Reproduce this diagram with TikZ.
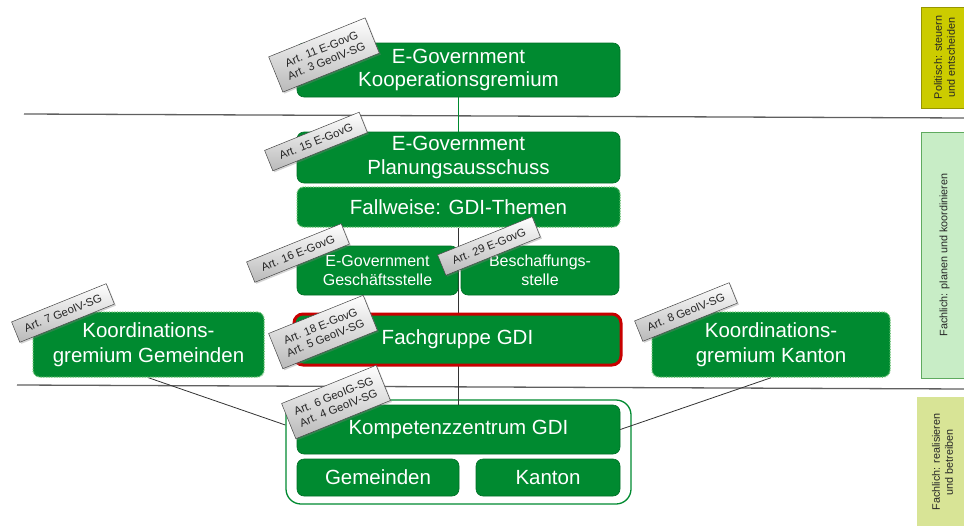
\documentclass[tikz,border=0pt]{standalone}
\usepackage{fontspec}
\setmainfont{Liberation Sans}
\usetikzlibrary{shadows}
\definecolor{gdigreen}{RGB}{0,138,48}
\definecolor{gdiedge}{RGB}{0,112,38}
\definecolor{gdidot}{RGB}{105,195,115}
\definecolor{gdired}{RGB}{200,0,0}
\definecolor{divgray}{RGB}{95,95,95}
\definecolor{taggray}{RGB}{70,70,70}
\definecolor{tagbot}{RGB}{185,185,185}
\definecolor{polfill}{RGB}{204,204,0}
\definecolor{poledge}{RGB}{150,150,0}
\definecolor{planfill}{RGB}{200,237,198}
\definecolor{planedge}{RGB}{95,170,95}
\definecolor{realfill}{RGB}{216,228,150}
\begin{document}
\begin{tikzpicture}[x=1pt,y=-1pt,
  gbox/.style={fill=gdigreen, draw=gdiedge, line width=0.6pt, rounded corners=7pt,
    text=white, align=center, inner sep=0pt, font=\fontsize{20.5}{23.5}\selectfont},
  sbox/.style={gbox, font=\fontsize{16}{19.5}\selectfont},
  dotbox/.style={gbox, draw=gdidot, densely dotted, line width=1.5pt},
  redbox/.style={gbox, draw=gdired, line width=3pt, rounded corners=9pt},
  outerbox/.style={draw=gdigreen, line width=1.3pt, fill=white, rounded corners=15pt},
  tagbox/.style={draw=taggray, line width=0.5pt, top color=white, bottom color=tagbot,
    rotate=22, align=center, inner sep=0pt, minimum width=102pt, minimum height=22pt,
    text=black!85, font=\fontsize{11.3}{13}\selectfont,
    drop shadow={shadow xshift=1.5pt, shadow yshift=-1.5pt, opacity=0.35}},
  tagtwo/.style={tagbox, minimum height=38pt},
  sidebox/.style={rotate=90, align=center, inner sep=0pt, text=black!85,
    font=\fontsize{10.8}{13}\selectfont},
  divider/.style={draw=divgray, line width=1.3pt},
  link/.style={draw=black!80, line width=0.8pt}
]
\clip (0,0) rectangle (964,525);

% side labels
\node[sidebox, fill=polfill, draw=poledge, minimum width=101pt, minimum height=47pt] (pol) at (944.5,57.5) {Politisch: steuern\\und entscheiden};
\node[sidebox, fill=planfill, draw=planedge, minimum width=246pt, minimum height=47pt] (plan) at (944.5,255) {Fachlich: planen und koordinieren};
\node[sidebox, fill=realfill, minimum width=131pt, minimum height=51pt] (real) at (942.5,462) {Fachlich: realisieren\\und betreiben};

% dividers
\coordinate (d1a) at (24,114);
\coordinate (d1b) at (966,118);
\coordinate (d2a) at (17,385);
\coordinate (d2b) at (966,389);
\draw[divider] (d1a) -- (d1b);
\draw[divider] (d2a) -- (d2b);

% outer box
\node[outerbox, minimum width=345pt, minimum height=104pt] (outer) at (458.5,452) {};

% boxes
\node[gbox, minimum width=323pt, minimum height=54pt] (koop) at (458.5,70) {E-Government\\Kooperationsgremium};
\node[gbox, minimum width=323pt, minimum height=51pt] (planung) at (458.5,157.5) {E-Government\\Planungsausschuss};
\node[dotbox, minimum width=323pt, minimum height=40pt] (fall) at (458.5,207) {Fallweise: GDI-Themen};
\node[gbox, minimum width=323pt, minimum height=49pt] (komp) at (458.5,429.5) {Kompetenzzentrum GDI};

% connectors behind
\draw[draw=gdigreen, line width=0.8pt] (koop.south) -- (planung.north);
\draw[link] (fall.south) -- (komp.north);

\node[sbox, minimum width=161pt, minimum height=49pt] (gesch) at (377.5,270.5) {E-Government\\Geschäftsstelle};
\node[sbox, minimum width=158pt, minimum height=49pt] (besch) at (540,270.5) {Beschaffungs-\\stelle};
\node[redbox, minimum width=327pt, minimum height=51pt] (fach) at (457.5,339.5) {Fachgruppe GDI};
\node[dotbox, minimum width=231pt, minimum height=65pt, font=\fontsize{20.5}{24.5}\selectfont] (kgem) at (148.5,344.5) {Koordinations-\\gremium Gemeinden};
\node[dotbox, minimum width=238pt, minimum height=65pt, font=\fontsize{20.5}{24.5}\selectfont] (kkan) at (771,344.5) {Koordinations-\\gremium Kanton};
\node[gbox, minimum width=162pt, minimum height=37pt] (gem) at (378,477.5) {Gemeinden};
\node[gbox, minimum width=144pt, minimum height=37pt] (kan) at (548,477.5) {Kanton};

\draw[link] (kgem.south) -- ([yshift=27pt]outer.west);
\draw[link] (kkan.south) -- (komp.east);

% tags
\node[tagtwo, minimum width=104pt] (t11) at (324,55) {Art. 11 E-GovG\\Art. 3 GeoIV-SG};
\node[tagbox] (t15) at (316,141.5) {Art. 15 E-GovG};
\node[tagbox] (t16) at (298,253) {Art. 16 E-GovG};
\node[tagbox] (t29) at (489,246) {Art. 29 E-GovG};
\node[tagtwo] (t18) at (323,332) {Art. 18 E-GovG\\Art. 5 GeoIV-SG};
\node[tagbox] (t7) at (63,313) {Art. 7 GeoIV-SG};
\node[tagbox] (t8) at (686,312) {Art. 8 GeoIV-SG};
\node[tagtwo] (t6) at (336,402) {Art. 6 GeoIG-SG\\Art. 4 GeoIV-SG};
\end{tikzpicture}
\end{document}
